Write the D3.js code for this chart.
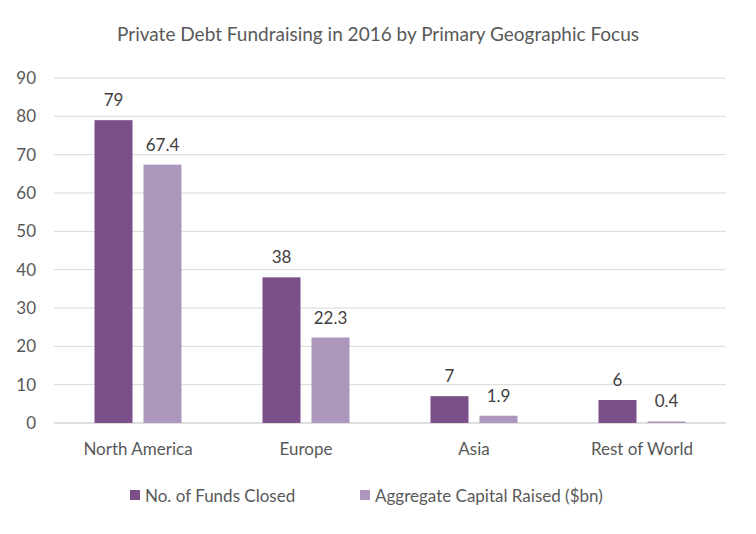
<!DOCTYPE html>
<html><head><meta charset="utf-8">
<script src="https://cdn.jsdelivr.net/npm/d3@7"></script>
<style>body{margin:0;background:#fff}</style></head>
<body><div id="chart"></div>
<script>
const categories = ["North America", "Europe", "Asia", "Rest of World"]
const fundsClosed = [79, 38, 7, 6]
const capitalRaised = [67.4, 22.3, 1.9, 0.4]
const seriesNames = ["No. of Funds Closed", "Aggregate Capital Raised ($bn)"]
const yTicks = [0, 10, 20, 30, 40, 50, 60, 70, 80, 90]

const font = "Lato, 'Open Sans', sans-serif"
const colors = ["#7B4F8A", "#AE97BD"]
const width = 756, height = 534

var svg = d3.select("#chart").append("svg")
    .attr("width", width).attr("height", height)
    .style("font-family", font)

var x = d3.scaleBand().domain(categories).range([54, 726])
var y = d3.scaleLinear().domain([0, 90]).range([423, 78])

svg.append("text").attr("x", 378).attr("y", 41).attr("text-anchor", "middle")
    .style("font-size", "19px").style("fill", "#595959")
    .text("Private Debt Fundraising in 2016 by Primary Geographic Focus")

svg.append("g").selectAll("line").data(yTicks).join("line")
    .attr("x1", 54).attr("x2", 726)
    .attr("y1", d => y(d)).attr("y2", d => y(d))
    .attr("stroke", d => d === 0 ? "#bfbfbf" : "#d9d9d9").attr("stroke-width", 1)

svg.append("g").selectAll("text").data(yTicks).join("text")
    .attr("x", 36).attr("y", d => y(d)).attr("dy", "0.35em")
    .attr("text-anchor", "end").style("font-size", "17px").style("fill", "#595959")
    .text(d => d)

var rows = categories.map((c, i) => ({cat: c, vals: [fundsClosed[i], capitalRaised[i]]}))
var barW = 38, gap = 11

var g = svg.append("g").selectAll("g").data(rows).join("g")
g.selectAll("rect").data(d => d.vals.map((v, j) => ({cat: d.cat, v, j}))).join("rect")
    .attr("x", d => x(d.cat) + x.bandwidth() / 2 - barW - gap / 2 + d.j * (barW + gap))
    .attr("y", d => y(d.v)).attr("width", barW)
    .attr("height", d => y(0) - y(d.v))
    .attr("fill", d => colors[d.j])
g.selectAll("text").data(d => d.vals.map((v, j) => ({cat: d.cat, v, j}))).join("text")
    .attr("x", d => x(d.cat) + x.bandwidth() / 2 - barW / 2 - gap / 2 + d.j * (barW + gap))
    .attr("y", d => y(d.v) - 14).attr("text-anchor", "middle")
    .style("font-size", "17px").style("fill", "#404040")
    .text(d => d.v)

svg.append("g").selectAll("text").data(categories).join("text")
    .attr("x", d => x(d) + x.bandwidth() / 2).attr("y", 455).attr("text-anchor", "middle")
    .style("font-size", "17px").style("fill", "#595959").text(d => d)

var leg = svg.append("g").selectAll("g").data(seriesNames).join("g")
    .attr("transform", (d, i) => "translate(" + (i === 0 ? 130 : 360) + ",496)")
leg.append("rect").attr("x", 0).attr("y", -6).attr("width", 10).attr("height", 10)
    .attr("fill", (d, i) => colors[i])
leg.append("text").attr("x", 15).attr("y", 0).attr("dy", "0.35em")
    .style("font-size", "17px").style("fill", "#595959").text(d => d)
</script></body></html>
